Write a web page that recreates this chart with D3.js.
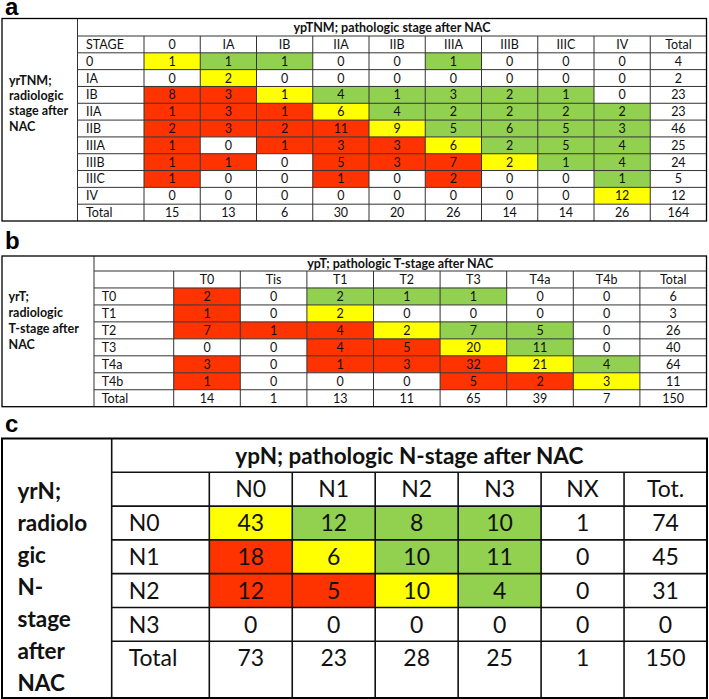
<!DOCTYPE html>
<html><head><meta charset="utf-8">
<script src="https://cdn.jsdelivr.net/npm/d3@7"></script>
<style>html,body{margin:0;padding:0;background:#fff;}svg{display:block;}</style>
</head><body>
<svg id="chart" width="709" height="699"></svg>
<script>
// ---------- DATA ----------
// (a) yrTNM vs ypTNM
const stageCategories = ["0","IA","IB","IIA","IIB","IIIA","IIIB","IIIC","IV"];
const stageValues = [
  [1,1,1,0,0,1,0,0,0],
  [0,2,0,0,0,0,0,0,0],
  [8,3,1,4,1,3,2,1,0],
  [1,3,1,6,4,2,2,2,2],
  [2,3,2,11,9,5,6,5,3],
  [1,0,1,3,3,6,2,5,4],
  [1,1,0,5,3,7,2,1,4],
  [1,0,0,1,0,2,0,0,1],
  [0,0,0,0,0,0,0,0,12]
];
const stageRowTotals = [4,2,23,23,46,25,24,5,12];
const stageColTotals = [15,13,6,30,20,26,14,14,26];
const stageGrandTotal = 164;

// (b) yrT vs ypT
const tCols = ["T0","Tis","T1","T2","T3","T4a","T4b"];
const tRows = ["T0","T1","T2","T3","T4a","T4b"];
const tRowMatch = ["Tis","T1","T2","T3","T4a","T4b"]; // pathologic column counted as agreement
const tValues = [
  [2,0,2,1,1,0,0],
  [1,0,2,0,0,0,0],
  [7,1,4,2,7,5,0],
  [0,0,4,5,20,11,0],
  [3,0,1,3,32,21,4],
  [1,0,0,0,5,2,3]
];
const tRowTotals = [6,3,26,40,64,11];
const tColTotals = [14,1,13,11,65,39,7];
const tGrandTotal = 150;

// (c) yrN vs ypN
const nCols = ["N0","N1","N2","N3","NX"];
const nRows = ["N0","N1","N2","N3"];
const nOrdered = ["N0","N1","N2","N3"];
const nValues = [
  [43,12,8,10,1],
  [18,6,10,11,0],
  [12,5,10,4,0],
  [0,0,0,0,0]
];
const nRowTotals = [74,45,31,0];
const nColTotals = [73,23,28,25,1];
const nGrandTotal = 150;

// ---------- DRAWING ----------
const svg = d3.select("#chart");
const FONT = "Lato, 'Open Sans', sans-serif";
const COL = {agree:"#ffff00", up:"#92d050", down:"#ff3300", none:"#ffffff"};

function cellColor(value, colCat, matchCat, order){
  if (value === 0) return COL.none;
  const ci = order.indexOf(colCat), mi = order.indexOf(matchCat);
  if (ci < 0 || mi < 0) return COL.none;
  return ci === mi ? COL.agree : (ci < mi ? COL.down : COL.up);
}

function drawTable(cfg){
  const g = svg.append("g");
  const totalKey = "__total";
  const colKeys = cfg.cols.concat([totalKey]);
  const rowKeys = ["__head"].concat(cfg.rows, [totalKey]);
  const x = d3.scaleBand().domain(colKeys).range([cfg.rowHeadX, cfg.right]);
  const y = d3.scaleBand().domain(rowKeys).range([cfg.headBottom, cfg.rowsEnd]);
  const bw = x.bandwidth(), bh = y.bandwidth();

  // panel letter
  svg.append("text").attr("x", 5).attr("y", cfg.letterY)
    .attr("font-family","'Liberation Sans', Arial, sans-serif").attr("font-weight","bold")
    .attr("font-size", 24).attr("fill","#000").text(cfg.letter);

  // cells
  const cells = [];
  cfg.rows.forEach((r, i) => {
    cfg.cols.forEach((c, j) => {
      cells.push({r, c, v: cfg.values[i][j], fill: cellColor(cfg.values[i][j], c, cfg.match[i], cfg.order)});
    });
    cells.push({r, c: totalKey, v: cfg.rowTotals[i], fill: COL.none});
  });
  cfg.cols.forEach((c, j) => cells.push({r: totalKey, c, v: cfg.colTotals[j], fill: COL.none}));
  cells.push({r: totalKey, c: totalKey, v: cfg.grand, fill: COL.none});

  g.selectAll("rect.cell").data(cells).join("rect").attr("class","cell")
    .attr("x", d => x(d.c)).attr("y", d => y(d.r))
    .attr("width", bw)
    .attr("height", d => d.r === totalKey ? cfg.bottom - y(d.r) : bh)
    .attr("fill", d => d.fill);

  g.selectAll("text.val").data(cells).join("text").attr("class","val")
    .attr("x", d => x(d.c) + bw/2).attr("y", d => y(d.r) + bh/2)
    .attr("dy","0.36em").attr("text-anchor","middle")
    .attr("font-family", FONT).attr("font-size", cfg.fontSize).attr("fill","#111")
    .text(d => d.v);

  // column headers
  g.selectAll("text.colh").data(colKeys).join("text").attr("class","colh")
    .attr("x", d => x(d) + bw/2).attr("y", y("__head") + bh/2).attr("dy","0.36em")
    .attr("text-anchor","middle").attr("font-family", FONT).attr("font-size", cfg.fontSize)
    .attr("fill","#111").text(d => d === totalKey ? cfg.totalColLabel : d);
  // row headers
  const rowHeadKeys = ["__head"].concat(cfg.rows, [totalKey]);
  g.selectAll("text.rowh").data(rowHeadKeys).join("text").attr("class","rowh")
    .attr("x", cfg.labelX + cfg.rowTextPad).attr("y", d => y(d) + bh/2).attr("dy","0.36em")
    .attr("font-family", FONT).attr("font-size", cfg.fontSize).attr("fill","#111")
    .text(d => d === "__head" ? cfg.corner : (d === totalKey ? "Total" : d));

  // title
  g.append("text").attr("x", (cfg.labelX + cfg.right)/2).attr("y", (cfg.top + cfg.headBottom)/2)
    .attr("dy","0.36em").attr("text-anchor","middle").attr("font-family", FONT)
    .attr("font-weight","bold").attr("font-size", cfg.titleSize).attr("fill","#111").text(cfg.title);

  // side label
  g.selectAll("text.side").data(cfg.sideLines).join("text").attr("class","side")
    .attr("x", cfg.left + cfg.sidePad).attr("y", (d, i) => cfg.sideBase + i*cfg.sideStep)
    .attr("font-family", FONT).attr("font-weight","bold").attr("font-size", cfg.sideSize)
    .attr("fill","#111").text(d => d);

  // grid lines
  const hl = rowKeys.slice(1).map(k => y(k));
  g.selectAll("line.h").data(hl).join("line").attr("class","h")
    .attr("x1", cfg.labelX).attr("x2", cfg.right).attr("y1", d => d).attr("y2", d => d)
    .attr("stroke", cfg.stroke).attr("stroke-width", cfg.sw);
  g.append("line").attr("x1", cfg.labelX).attr("x2", cfg.right)
    .attr("y1", cfg.headBottom).attr("y2", cfg.headBottom)
    .attr("stroke", cfg.stroke).attr("stroke-width", cfg.sw);
  const vl = colKeys.map(k => x(k));
  g.selectAll("line.v").data(vl).join("line").attr("class","v")
    .attr("x1", d => d).attr("x2", d => d).attr("y1", cfg.headBottom).attr("y2", cfg.bottom)
    .attr("stroke", cfg.stroke).attr("stroke-width", cfg.sw);
  g.append("line").attr("x1", cfg.labelX).attr("x2", cfg.labelX).attr("y1", cfg.top).attr("y2", cfg.bottom)
    .attr("stroke", cfg.stroke).attr("stroke-width", cfg.sw);
  g.append("rect").attr("x", cfg.left).attr("y", cfg.top)
    .attr("width", cfg.right - cfg.left).attr("height", cfg.bottom - cfg.top)
    .attr("fill","none").attr("stroke","#000").attr("stroke-width", cfg.osw);
}

drawTable({
  letter:"a", letterY:15,
  cols: stageCategories, rows: stageCategories, values: stageValues,
  match: stageCategories, order: stageCategories,
  rowTotals: stageRowTotals, colTotals: stageColTotals, grand: stageGrandTotal,
  left:2, right:706.5, top:18.5, headBottom:36, labelX:77.5, rowHeadX:144, rowsEnd:221, bottom:221,
  fontSize:12.5, titleSize:12.5, sideSize:12.5, rowTextPad:8.5,
  title:"ypTNM; pathologic stage after NAC", corner:"STAGE", totalColLabel:"Total",
  sideLines:["yrTNM;","radiologic","stage after","NAC"], sidePad:7, sideBase:84.5, sideStep:15.4,
  stroke:"#333", sw:1, osw:1.3
});

drawTable({
  letter:"b", letterY:249,
  cols: tCols, rows: tRows, values: tValues,
  match: tRowMatch, order: tCols,
  rowTotals: tRowTotals, colTotals: tColTotals, grand: tGrandTotal,
  left:2, right:706.5, top:256, headBottom:271, labelX:94, rowHeadX:173.7, rowsEnd:406.7, bottom:406.7,
  fontSize:12.5, titleSize:12.5, sideSize:12.5, rowTextPad:7.7,
  title:"ypT; pathologic T-stage after NAC", corner:"", totalColLabel:"Total",
  sideLines:["yrT;","radiologic","T-stage after","NAC"], sidePad:6.5, sideBase:300.5, sideStep:16.1,
  stroke:"#333", sw:1, osw:1.3
});

drawTable({
  letter:"c", letterY:432,
  cols: nCols, rows: nRows, values: nValues,
  match: nRows, order: nOrdered,
  rowTotals: nRowTotals, colTotals: nColTotals, grand: nGrandTotal,
  left:2, right:707, top:438.5, headBottom:472.3, labelX:111.7, rowHeadX:209.3, rowsEnd:675, bottom:698,
  fontSize:23, titleSize:22.5, sideSize:22.5, rowTextPad:17,
  title:"ypN; pathologic N-stage after NAC", corner:"", totalColLabel:"Tot.",
  sideLines:["yrN;","radiolo","gic","N-","stage","after","NAC"], sidePad:15.5, sideBase:498.5, sideStep:32,
  stroke:"#111", sw:1.6, osw:2
});
</script>
</body></html>
